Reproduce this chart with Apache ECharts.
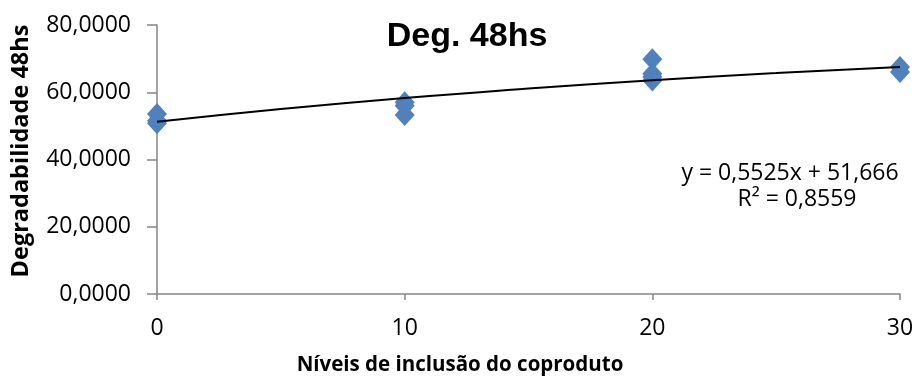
<!DOCTYPE html>
<html>
<head>
<meta charset="utf-8">
<script src="https://cdn.jsdelivr.net/npm/echarts@6/dist/echarts.min.js"></script>
<style>
  html, body { margin: 0; padding: 0; background: #fff; }
  #chart { width: 917px; height: 379px; }
</style>
</head>
<body>
<div id="chart"></div>
<script>
// Inclusion levels and measured 48h degradability
const levels = [0, 0, 0, 10, 10, 10, 20, 20, 20, 20, 30, 30];
const degradability = [53.5, 51.5, 50.8, 57.0, 56.0, 53.2, 69.8, 65.5, 64.5, 63.5, 67.5, 66.0];

// Fitted trend curve, read at regular inclusion steps
const trendX = [0, 5, 10, 15, 20, 25, 30];
const trendY = [51.2, 55.0, 58.3, 61.1, 63.6, 65.7, 67.5];

const yTicks = [0, 20, 40, 60, 80];
const xTicks = [0, 10, 20, 30];

const chartTitle = 'Deg. 48hs';
const xTitle = 'Níveis de inclusão do coproduto';
const yTitle = 'Degradabilidade 48hs';
const equation = 'y = 0,5525x + 51,666';
const rSquared = 'R² = 0,8559';

const points = levels.map((x, i) => [x, degradability[i]]);
const trend = trendX.map((x, i) => [x, trendY[i]]);

const axisGrey = '#868686';
const labelFont = '"Open Sans", sans-serif';

const chart = echarts.init(document.getElementById('chart'), null, { renderer: 'canvas' });
chart.setOption({
  animation: false,
  backgroundColor: '#ffffff',
  title: {
    text: chartTitle,
    left: 462,
    top: 15,
    textAlign: 'center',
    textStyle: { fontFamily: '"Liberation Sans", Arial, sans-serif', fontWeight: 'bold', fontSize: 34, color: '#000' }
  },
  grid: { left: 157, right: 17, top: 25, bottom: 85, containLabel: false },
  xAxis: {
    type: 'value',
    min: xTicks[0],
    max: xTicks[xTicks.length - 1],
    interval: 10,
    axisLine: { show: true, lineStyle: { color: axisGrey, width: 1.5 } },
    axisTick: { show: true, length: 6, lineStyle: { color: axisGrey, width: 1.5 } },
    axisLabel: { margin: 23, fontFamily: labelFont, fontSize: 23, color: '#000' },
    splitLine: { show: false }
  },
  yAxis: {
    type: 'value',
    min: yTicks[0],
    max: yTicks[yTicks.length - 1],
    interval: 20,
    axisLine: { show: true, lineStyle: { color: axisGrey, width: 1.5 } },
    axisTick: { show: true, inside: false, length: 10, lineStyle: { color: axisGrey, width: 1.5 } },
    axisLabel: {
      margin: 26,
      fontFamily: labelFont,
      fontSize: 23,
      color: '#000',
      formatter: v => v.toFixed(4).replace('.', ',')
    },
    splitLine: { show: false }
  },
  series: [
    {
      type: 'scatter',
      data: points,
      symbol: 'diamond',
      symbolSize: [20, 22],
      itemStyle: { color: '#4F81BD', opacity: 1 },
      z: 2
    },
    {
      type: 'line',
      data: trend,
      smooth: true,
      showSymbol: false,
      lineStyle: { color: '#000', width: 2 },
      z: 3
    }
  ],
  graphic: [
    {
      type: 'text',
      x: 460,
      y: 365,
      style: {
        text: xTitle,
        font: 'bold 20.5px "Open Sans", sans-serif',
        fill: '#000',
        align: 'center',
        verticalAlign: 'middle'
      }
    },
    {
      type: 'text',
      x: 21,
      y: 151,
      rotation: Math.PI / 2,
      style: {
        text: yTitle,
        font: 'bold 23.5px "Open Sans", sans-serif',
        fill: '#000',
        align: 'center',
        verticalAlign: 'middle'
      }
    },
    {
      type: 'text',
      x: 790,
      y: 173,
      style: { text: equation, font: '23px "Open Sans", sans-serif', fill: '#000', align: 'center', verticalAlign: 'middle' }
    },
    {
      type: 'text',
      x: 797,
      y: 199,
      style: { text: rSquared, font: '23px "Open Sans", sans-serif', fill: '#000', align: 'center', verticalAlign: 'middle' }
    }
  ]
});
</script>
</body>
</html>
